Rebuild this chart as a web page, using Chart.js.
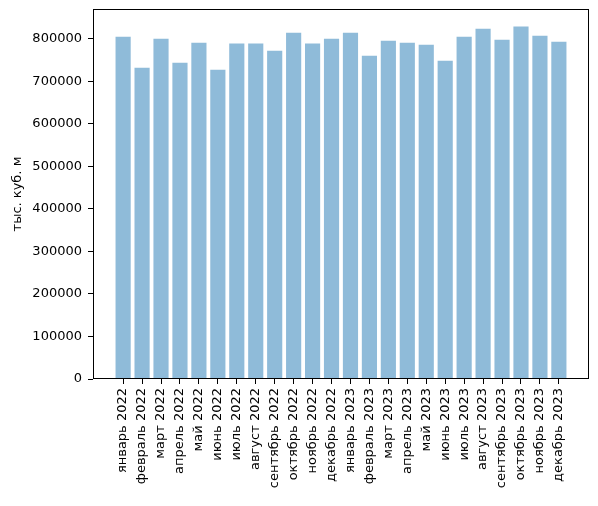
<!DOCTYPE html>
<html>
<head>
<meta charset="utf-8">
<script src="https://cdn.jsdelivr.net/npm/chart.js@4"></script>
<style>
  html, body { margin: 0; padding: 0; background: #fff; }
  canvas { display: block; }
</style>
</head>
<body>
<canvas id="gasChart" width="598" height="506"></canvas>
<script>
// Months on the x axis
const months = [
    'январь 2022', 'февраль 2022', 'март 2022', 'апрель 2022', 'май 2022', 'июнь 2022',
    'июль 2022', 'август 2022', 'сентябрь 2022', 'октябрь 2022', 'ноябрь 2022', 'декабрь 2022',
    'январь 2023', 'февраль 2023', 'март 2023', 'апрель 2023', 'май 2023', 'июнь 2023',
    'июль 2023', 'август 2023', 'сентябрь 2023', 'октябрь 2023', 'ноябрь 2023', 'декабрь 2023'
];

// Volume per month, тыс. куб. м
const volumes = [
    805400, 732500, 800700, 744200, 791300, 727800,
    789000, 789000, 772500, 814800, 789000, 800700,
    814800, 760700, 796000, 791300, 786600, 748900,
    805400, 824200, 798400, 829000, 807800, 793600
];

// Y tick values
const yTicks = [0, 100000, 200000, 300000, 400000, 500000, 600000, 700000, 800000];
const yTitle = 'тыс. куб. м';

const ctx = document.getElementById('gasChart').getContext('2d');
const fontFamily = '"DejaVu Sans", sans-serif';

// matplotlib-like limits: 5% margin around bars
const xMin = -0.4 - 0.05 * (months.length - 1 + 0.8);
const xMax = months.length - 1 + 0.4 + 0.05 * (months.length - 1 + 0.8);
const yMax = Math.max(...volumes) * 1.05;

// Box around the plot area
const frame = {
    id: 'frame',
    afterDraw(chart) {
        const a = chart.chartArea;
        const c = chart.ctx;
        c.save();
        c.strokeStyle = '#000';
        c.lineWidth = 1;
        c.strokeRect(Math.round(a.left) + 0.5, Math.round(a.top) + 0.5,
            Math.round(a.right - a.left) - 1, Math.round(a.bottom - a.top) - 1);
        c.restore();
    }
};

new Chart(ctx, {
    type: 'bar',
    data: {
        datasets: [{
            data: volumes.map((v, i) => ({ x: i, y: v })),
            backgroundColor: 'rgba(31, 119, 180, 0.5)',
            borderWidth: 0,
            categoryPercentage: 1,
            barPercentage: 0.8
        }]
    },
    options: {
        responsive: false,
        animation: false,
        devicePixelRatio: 1,
        layout: { padding: { top: 9, right: 9, left: 0, bottom: 0 } },
        plugins: {
            legend: { display: false },
            tooltip: { enabled: false }
        },
        scales: {
            x: {
                type: 'linear',
                offset: false,
                min: xMin,
                max: xMax,
                afterBuildTicks: scale => {
                    scale.ticks = months.map((_, i) => ({ value: i }));
                },
                afterFit: scale => {
                    scale.height = 127;
                    scale.paddingLeft = 0;
                    scale.paddingRight = 0;
                },
                grid: {
                    offset: false,
                    drawOnChartArea: false,
                    drawTicks: true,
                    tickLength: 5,
                    color: '#000'
                },
                border: { display: false },
                ticks: {
                    autoSkip: false,
                    minRotation: 90,
                    maxRotation: 90,
                    padding: 4,
                    color: '#000',
                    font: { family: fontFamily, size: 13 },
                    callback: value => months[value]
                }
            },
            y: {
                min: 0,
                max: yMax,
                afterBuildTicks: scale => {
                    scale.ticks = yTicks.map(v => ({ value: v }));
                },
                afterFit: scale => {
                    scale.width = 93;
                    scale.paddingTop = 0;
                    scale.paddingBottom = 0;
                },
                grid: {
                    drawOnChartArea: false,
                    drawTicks: true,
                    tickLength: 5,
                    color: '#000'
                },
                border: { display: false },
                ticks: {
                    autoSkip: false,
                    padding: 6,
                    color: '#000',
                    font: { family: fontFamily, size: 13 },
                    callback: value => String(value)
                },
                title: {
                    display: true,
                    text: yTitle,
                    color: '#000',
                    font: { family: fontFamily, size: 13 },
                    padding: { top: 10, bottom: 4 }
                }
            }
        }
    },
    plugins: [frame]
});
</script>
</body>
</html>
